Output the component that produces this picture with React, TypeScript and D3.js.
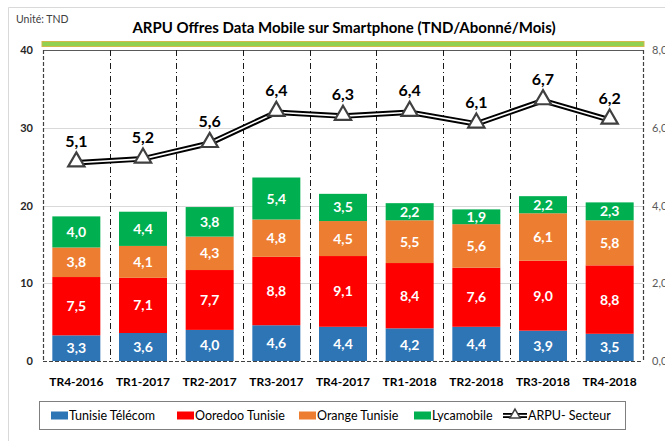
import React, { useEffect, useRef } from 'react';
import * as d3 from 'd3';

const categories = ['TR4-2016', 'TR1-2017', 'TR2-2017', 'TR3-2017', 'TR4-2017', 'TR1-2018', 'TR2-2018', 'TR3-2018', 'TR4-2018'];
const tunisieTelecom = [3.3, 3.6, 4.0, 4.6, 4.4, 4.2, 4.4, 3.9, 3.5];
const ooredoo = [7.5, 7.1, 7.7, 8.8, 9.1, 8.4, 7.6, 9.0, 8.8];
const orange = [3.8, 4.1, 4.3, 4.8, 4.5, 5.5, 5.6, 6.1, 5.8];
const lycamobile = [4.0, 4.4, 3.8, 5.4, 3.5, 2.2, 1.9, 2.2, 2.3];
const arpuSecteur = [5.1, 5.2, 5.6, 6.4, 6.3, 6.4, 6.1, 6.7, 6.2];
const leftTicks = [0, 10, 20, 30, 40];
const rightTicks = [0, 2, 4, 6, 8];

const series = [
  { name: 'Tunisie Télécom', values: tunisieTelecom, color: '#2E75B6' },
  { name: 'Ooredoo Tunisie', values: ooredoo, color: '#FF0000' },
  { name: 'Orange Tunisie', values: orange, color: '#ED7D31' },
  { name: 'Lycamobile', values: lycamobile, color: '#00B050' },
];

const W = 665;
const H = 441;
const margin = { top: 50, right: 22, bottom: 80, left: 43 };
const FONT = 'Lato, "Open Sans", sans-serif';
const fmt = (v: number) => d3.format('.1f')(v).replace('.', ',');

function App() {
  const ref = useRef<SVGSVGElement | null>(null);

  useEffect(() => {
    const svg = d3.select(ref.current);
    svg.selectAll('*').remove();

    const innerW = W - margin.left - margin.right;
    const innerH = H - margin.top - margin.bottom;

    // outer frame (only top and left visible)
    svg.append('path')
      .attr('d', `M8.5,${H} L8.5,7.5 L${W},7.5`)
      .attr('fill', 'none')
      .attr('stroke', '#d9d9d9');

    svg.append('text')
      .attr('x', 16).attr('y', 23)
      .attr('font-size', 10.5).attr('fill', '#404040')
      .attr('font-family', FONT)
      .text('Unité: TND');

    svg.append('text')
      .attr('x', 344).attr('y', 33)
      .attr('text-anchor', 'middle')
      .attr('font-size', 15).attr('font-weight', 'bold').attr('fill', '#000')
      .attr('font-family', FONT)
      .text('ARPU Offres Data Mobile sur Smartphone (TND/Abonné/Mois)');

    // green band above plot
    svg.append('rect')
      .attr('x', 42).attr('y', 41.5).attr('width', 602).attr('height', 5)
      .attr('fill', '#92D050').attr('stroke', '#D4B84A').attr('stroke-width', 1);

    const x = d3.scaleBand().domain(categories).range([0, innerW]).paddingInner(0.28).paddingOuter(0.14);
    const yL = d3.scaleLinear().domain([0, 40]).range([innerH, 0]);
    const yR = d3.scaleLinear().domain([0, 8]).range([innerH, 0]);
    const step = innerW / categories.length;

    const g = svg.append('g').attr('transform', `translate(${margin.left},${margin.top})`);

    // gridlines
    g.selectAll('.grid').data(leftTicks.filter(t => t > 0 && t < 40)).enter()
      .append('line')
      .attr('x1', 0).attr('x2', innerW)
      .attr('y1', d => Math.round(yL(d)) + 0.5).attr('y2', d => Math.round(yL(d)) + 0.5)
      .attr('stroke', '#d9d9d9');

    // top border
    g.append('line').attr('x1', 0).attr('x2', innerW).attr('y1', 0.5).attr('y2', 0.5)
      .attr('stroke', '#595959').attr('stroke-width', 1);

    // dash-dot separators between categories
    g.selectAll('.sep').data(d3.range(1, categories.length)).enter()
      .append('line')
      .attr('x1', d => Math.round(d * step) + 0.5).attr('x2', d => Math.round(d * step) + 0.5)
      .attr('y1', 0).attr('y2', innerH)
      .attr('stroke', '#1a1a1a').attr('stroke-width', 1)
      .attr('stroke-dasharray', '6,3,1,3');

    // stacked bars
    const stacked = categories.map((c, i) => {
      let acc = 0;
      return series.map(s => {
        const v = s.values[i];
        const seg = { cat: c, y0: acc, y1: acc + v, v, color: s.color };
        acc += v;
        return seg;
      });
    }).flat();

    g.selectAll('.bar').data(stacked).enter()
      .append('rect')
      .attr('x', d => x(d.cat)!)
      .attr('width', x.bandwidth())
      .attr('y', d => yL(d.y1))
      .attr('height', d => yL(d.y0) - yL(d.y1))
      .attr('fill', d => d.color);

    g.selectAll('.barlabel').data(stacked).enter()
      .append('text')
      .attr('x', d => x(d.cat)! + x.bandwidth() / 2)
      .attr('y', d => (yL(d.y0) + yL(d.y1)) / 2 + 5)
      .attr('text-anchor', 'middle')
      .attr('font-size', 14).attr('font-weight', 'bold').attr('fill', '#fff')
      .attr('font-family', FONT)
      .text(d => fmt(d.v));

    // axes lines (dashed)
    const axisStyle = (sel: any) => sel.attr('stroke', '#404040').attr('stroke-width', 1.2).attr('stroke-dasharray', '4,2');
    g.append('line').attr('x1', 0.5).attr('x2', 0.5).attr('y1', 0).attr('y2', innerH).call(axisStyle);
    g.append('line').attr('x1', innerW + 0.5).attr('x2', innerW + 0.5).attr('y1', 0).attr('y2', innerH).call(axisStyle);
    g.append('line').attr('x1', 0).attr('x2', innerW).attr('y1', innerH + 0.5).attr('y2', innerH + 0.5).call(axisStyle);

    // left tick labels
    g.selectAll('.lt').data(leftTicks).enter()
      .append('text')
      .attr('x', -10).attr('y', d => yL(d) + 4)
      .attr('text-anchor', 'end')
      .attr('font-size', 11).attr('font-weight', 'bold').attr('fill', '#262626')
      .attr('font-family', FONT)
      .text(d => d);

    // right tick labels (cut at the edge, as in the source)
    g.selectAll('.rt').data(rightTicks).enter()
      .append('text')
      .attr('x', innerW + 9).attr('y', d => yR(d) + 4)
      .attr('font-size', 11).attr('fill', '#595959')
      .attr('font-family', FONT)
      .text(d => fmt(d));

    // x labels
    g.selectAll('.xl').data(categories).enter()
      .append('text')
      .attr('x', d => x(d)! + x.bandwidth() / 2)
      .attr('y', innerH + 25)
      .attr('text-anchor', 'middle')
      .attr('font-size', 12).attr('font-weight', 'bold').attr('fill', '#000')
      .attr('font-family', FONT)
      .text(d => d);

    // ARPU line: compound black/white line
    const lineGen = d3.line<number>()
      .x((_, i) => x(categories[i])! + x.bandwidth() / 2)
      .y(d => yR(d));

    g.append('path').datum(arpuSecteur).attr('d', lineGen)
      .attr('fill', 'none').attr('stroke', '#000').attr('stroke-width', 5.5);
    g.append('path').datum(arpuSecteur).attr('d', lineGen)
      .attr('fill', 'none').attr('stroke', '#fff').attr('stroke-width', 1.6);

    const tri = d3.symbol().type(d3.symbolTriangle).size(115);
    g.selectAll('.mk').data(arpuSecteur).enter()
      .append('path')
      .attr('d', tri)
      .attr('transform', (d, i) => `translate(${x(categories[i])! + x.bandwidth() / 2},${yR(d) - 1})`)
      .attr('fill', '#fff').attr('stroke', '#404040').attr('stroke-width', 2.2);

    g.selectAll('.ll').data(arpuSecteur).enter()
      .append('text')
      .attr('x', (_, i) => x(categories[i])! + x.bandwidth() / 2)
      .attr('y', d => yR(d) - 16)
      .attr('text-anchor', 'middle')
      .attr('font-size', 16).attr('font-weight', 'bold').attr('fill', '#000')
      .attr('font-family', FONT)
      .text(d => fmt(d));

    // legend
    const lg = svg.append('g');
    lg.append('rect').attr('x', 39.5).attr('y', 401.5).attr('width', 586).attr('height', 28)
      .attr('fill', '#fff').attr('stroke', '#7f7f7f').attr('stroke-width', 1);
    const items = [
      { name: series[0].name, color: series[0].color, x: 51 },
      { name: series[1].name, color: series[1].color, x: 177 },
      { name: series[2].name, color: series[2].color, x: 299 },
      { name: series[3].name, color: series[3].color, x: 414 },
    ];
    const ly = 415.5;
    items.forEach(it => {
      lg.append('rect').attr('x', it.x).attr('y', ly - 4).attr('width', 17).attr('height', 8).attr('fill', it.color);
      lg.append('text').attr('x', it.x + 18).attr('y', ly + 4.5)
        .attr('font-size', 12.5).attr('fill', '#000').attr('font-family', FONT)
        .text(it.name);
    });
    const lx = 503;
    lg.append('line').attr('x1', lx).attr('x2', lx + 24).attr('y1', ly).attr('y2', ly).attr('stroke', '#000').attr('stroke-width', 5);
    lg.append('line').attr('x1', lx).attr('x2', lx + 24).attr('y1', ly).attr('y2', ly).attr('stroke', '#fff').attr('stroke-width', 1.4);
    lg.append('path').attr('d', d3.symbol().type(d3.symbolTriangle).size(45)())
      .attr('transform', `translate(${lx + 12},${ly - 0.5})`)
      .attr('fill', '#fff').attr('stroke', '#404040').attr('stroke-width', 1.5);
    lg.append('text').attr('x', lx + 25).attr('y', ly + 4.5)
      .attr('font-size', 12.5).attr('fill', '#000').attr('font-family', FONT)
      .text('ARPU- Secteur');
  }, []);

  return (
    <svg
      ref={ref}
      width={W}
      height={H}
      style={{ position: 'absolute', left: 0, top: 0, background: '#fff' }}
    />
  );
}

export default App;
